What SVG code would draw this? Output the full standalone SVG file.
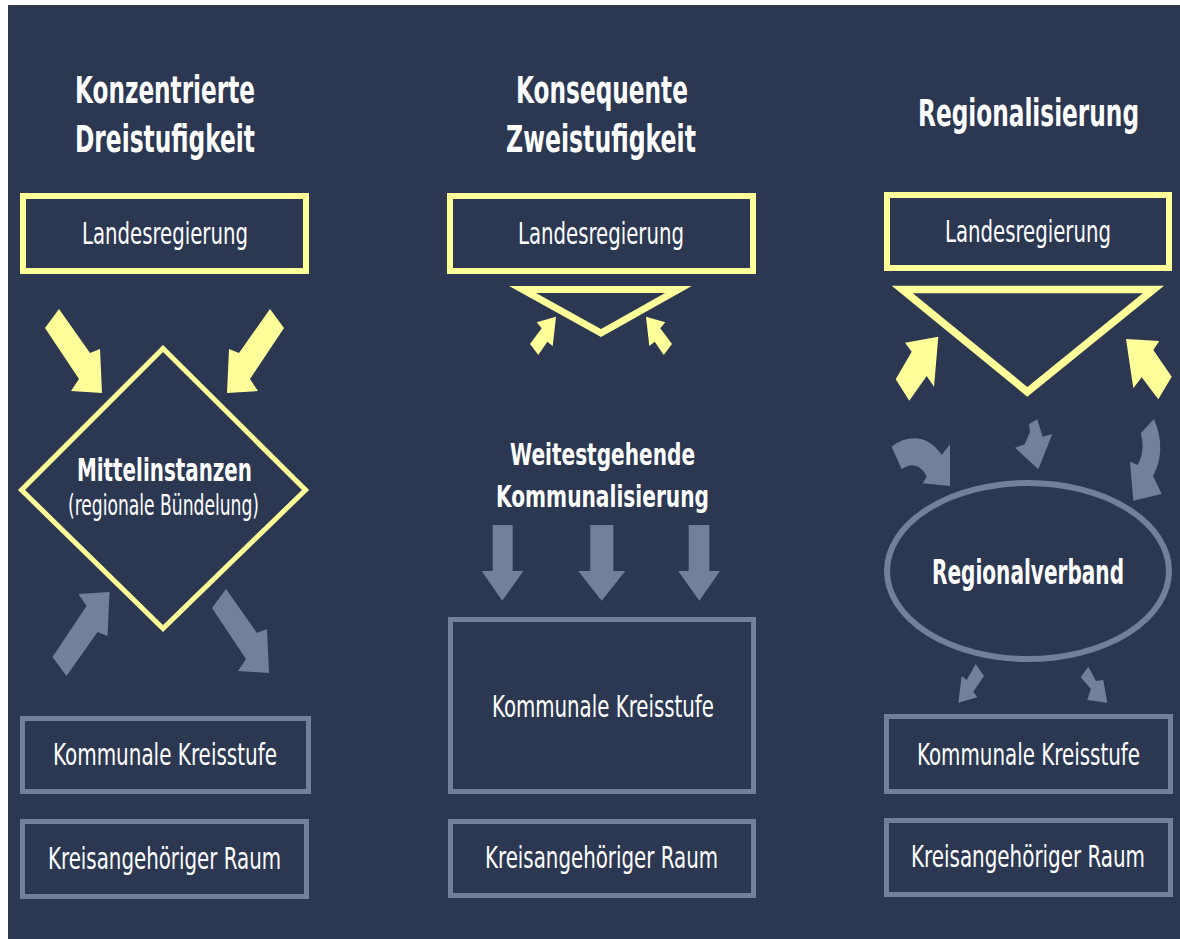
<svg xmlns="http://www.w3.org/2000/svg" width="1180" height="939" viewBox="0 0 1180 939">
<style>
.t{font-family:"DejaVu Sans Condensed","DejaVu Sans",sans-serif;fill:#FFFFFF;font-stretch:condensed;text-anchor:middle}
.b{font-weight:bold}
.h{font-size:37px}
.r{font-size:31px}
.ybox{fill:none;stroke:#FFFF99;stroke-width:6}
.gbox{fill:none;stroke:#748099;stroke-width:5}
.ya{fill:#FFFF99}
.ga{fill:#748099}
</style>
<rect x="0" y="0" width="1180" height="939" fill="#FFFFFF"/>
<rect x="8" y="5" width="1172" height="934" fill="#2C3852"/>

<g id="titles">
<text class="t b h" transform="matrix(0.75,0,0,1,165,103)" textLength="240" lengthAdjust="spacingAndGlyphs">Konzentrierte</text>
<text class="t b h" transform="matrix(0.75,0,0,1,165,152)" textLength="240" lengthAdjust="spacingAndGlyphs">Dreistufigkeit</text>
<text class="t b h" transform="matrix(0.75,0,0,1,602,103)" textLength="229.3" lengthAdjust="spacingAndGlyphs">Konsequente</text>
<text class="t b h" transform="matrix(0.75,0,0,1,601,152)" textLength="253.3" lengthAdjust="spacingAndGlyphs">Zweistufigkeit</text>
<text class="t b h" transform="matrix(0.75,0,0,1,1028.5,126)" textLength="294.7" lengthAdjust="spacingAndGlyphs">Regionalisierung</text>
</g>

<g id="landes-left">
<rect class="ybox" x="23" y="196" width="283" height="75"/>
<text class="t r" transform="matrix(0.75,0,0,1,165,244)" textLength="221.3" lengthAdjust="spacingAndGlyphs">Landesregierung</text>
</g>
<g id="landes-mid">
<rect class="ybox" x="450" y="196" width="303" height="75"/>
<text class="t r" transform="matrix(0.75,0,0,1,601,244)" textLength="221.3" lengthAdjust="spacingAndGlyphs">Landesregierung</text>
</g>
<g id="landes-right">
<rect class="ybox" x="887" y="195" width="282" height="73"/>
<text class="t r" transform="matrix(0.75,0,0,1,1028,242)" textLength="221.3" lengthAdjust="spacingAndGlyphs">Landesregierung</text>
</g>

<g id="mittelinstanzen">
<polygon points="163,348.5 305.5,490 163,628.5 21.5,490" fill="none" stroke="#FFFF99" stroke-width="5"/>
<text class="t b" style="font-size:32px" transform="matrix(0.75,0,0,1,164.5,481)" textLength="233.3" lengthAdjust="spacingAndGlyphs">Mittelinstanzen</text>
<text class="t" style="font-size:28px" transform="matrix(0.75,0,0,1,163.5,515)" textLength="254.7" lengthAdjust="spacingAndGlyphs">(regionale Bündelung)</text>
</g>

<g id="triangle-mid">
<polygon points="522.6,289.5 678.4,289.5 601,333" fill="none" stroke="#FFFF99" stroke-width="7" stroke-miterlimit="10"/>
</g>

<g id="kommunalisierung">
<text class="t b" style="font-size:31px" transform="matrix(0.75,0,0,1,602.5,465)" textLength="246.7" lengthAdjust="spacingAndGlyphs">Weitestgehende</text>
<text class="t b" style="font-size:31px" transform="matrix(0.75,0,0,1,602.5,507)" textLength="284" lengthAdjust="spacingAndGlyphs">Kommunalisierung</text>
</g>

<g id="triangle-right">
<polygon points="902.2,289.5 1153.5,289.5 1027.3,391.8" fill="none" stroke="#FFFF99" stroke-width="7.5" stroke-miterlimit="10"/>
</g>

<g id="regionalverband">
<ellipse cx="1028" cy="571" rx="141" ry="88" fill="none" stroke="#748099" stroke-width="6"/>
<text class="t b" style="font-size:34px" transform="matrix(0.75,0,0,1,1028,584)" textLength="256" lengthAdjust="spacingAndGlyphs">Regionalverband</text>
</g>

<g id="kreisstufe-left">
<rect class="gbox" x="22.5" y="718.5" width="286" height="73"/>
<text class="t r" transform="matrix(0.75,0,0,1,165,765)" textLength="298.7" lengthAdjust="spacingAndGlyphs">Kommunale Kreisstufe</text>
</g>
<g id="kreisstufe-mid">
<rect class="gbox" x="450.5" y="619.5" width="303" height="172"/>
<text class="t r" transform="matrix(0.75,0,0,1,603,717)" textLength="296" lengthAdjust="spacingAndGlyphs">Kommunale Kreisstufe</text>
</g>
<g id="kreisstufe-right">
<rect class="gbox" x="886.5" y="716.5" width="284" height="75"/>
<text class="t r" transform="matrix(0.75,0,0,1,1028.5,765)" textLength="297.3" lengthAdjust="spacingAndGlyphs">Kommunale Kreisstufe</text>
</g>

<g id="raum-left">
<rect class="gbox" x="22.5" y="821.5" width="284" height="75"/>
<text class="t r" transform="matrix(0.75,0,0,1,164.5,869)" textLength="310.7" lengthAdjust="spacingAndGlyphs">Kreisangehöriger Raum</text>
</g>
<g id="raum-mid">
<rect class="gbox" x="450.5" y="821.5" width="303" height="74"/>
<text class="t r" transform="matrix(0.75,0,0,1,601.5,868)" textLength="310.7" lengthAdjust="spacingAndGlyphs">Kreisangehöriger Raum</text>
</g>
<g id="raum-right">
<rect class="gbox" x="886.5" y="820.5" width="284" height="74"/>
<text class="t r" transform="matrix(0.75,0,0,1,1028,867)" textLength="312" lengthAdjust="spacingAndGlyphs">Kreisangehöriger Raum</text>
</g>

<g id="connectors">
<!-- left column -->
<polygon class="ya" points="45,328 59,309 90,353 100,349 102,393 71,391 79,379"/>
<polygon class="ya" points="284,328 270,309 239,353 229,349 227,393 258,391 250,379"/>
<polygon class="ga" points="52.5,657 66.5,676 97.5,632 107.5,636 109.5,592 78.5,594 86.5,606"/>
<polygon class="ga" points="212,608 226,589 257,633 267,629 269,673 238,671 246,659"/>
<!-- middle column -->
<polygon class="ya" points="530,344 541.7,328.3 536.7,322.3 556,316.7 552.7,346 547.3,341.7 538.3,355"/>
<polygon class="ya" points="672,344 660.3,328.3 665.3,322.3 646,316.7 649.3,346 654.7,341.7 663.7,355"/>
<polygon class="ga" points="492.7,525 512.7,525 512.7,571 523.3,571 502.3,600.7 481.7,571 492.7,571"/>
<polygon class="ga" points="590.3,525 613.3,525 613.3,571 625.3,571 601.7,600.7 578.3,571 590.3,571"/>
<polygon class="ga" points="688.7,525 709.3,525 709.3,571 720,571 699.3,600.7 678.3,571 688.7,571"/>
<!-- right column -->
<polygon class="ya" points="895.7,379.3 911.7,351.7 905,342.7 938.3,336.7 934,386.7 926.7,376 909.3,400.7"/>
<polygon class="ya" points="1126,339 1159.3,341 1153.3,350 1171.7,376.7 1158.3,399.3 1141.7,377.3 1133.3,388.3"/>
<path class="ga" d="M891.7,446.7 C902,438 925,430 941.7,455 L950,444.3 L950,486 L922.7,483.3 L926.7,476.7 C922,466 912,461 901.7,469.3 Z"/>
<polygon class="ga" points="1029,424 1037.3,419.3 1042.7,436.7 1052.3,434 1038.3,469.3 1015,447.7 1024.5,444.5 1030,432"/>
<path class="ga" d="M1140.7,433.3 L1154,419 C1163,440 1162,460 1153,476 L1161.7,494 L1133.3,500.7 L1130,461.7 L1137.7,465 C1143,455 1144,445 1140.7,433.3 Z"/>
<polygon class="ga" points="975.7,664 984,676 973.3,691.7 977.3,697.3 958.3,702.7 961.7,676 966.7,680"/>
<polygon class="ga" points="1080.7,677.3 1088.3,666.7 1096,681 1103.3,680 1107.3,702.7 1087.3,700 1091,689"/>
</g>
</svg>
